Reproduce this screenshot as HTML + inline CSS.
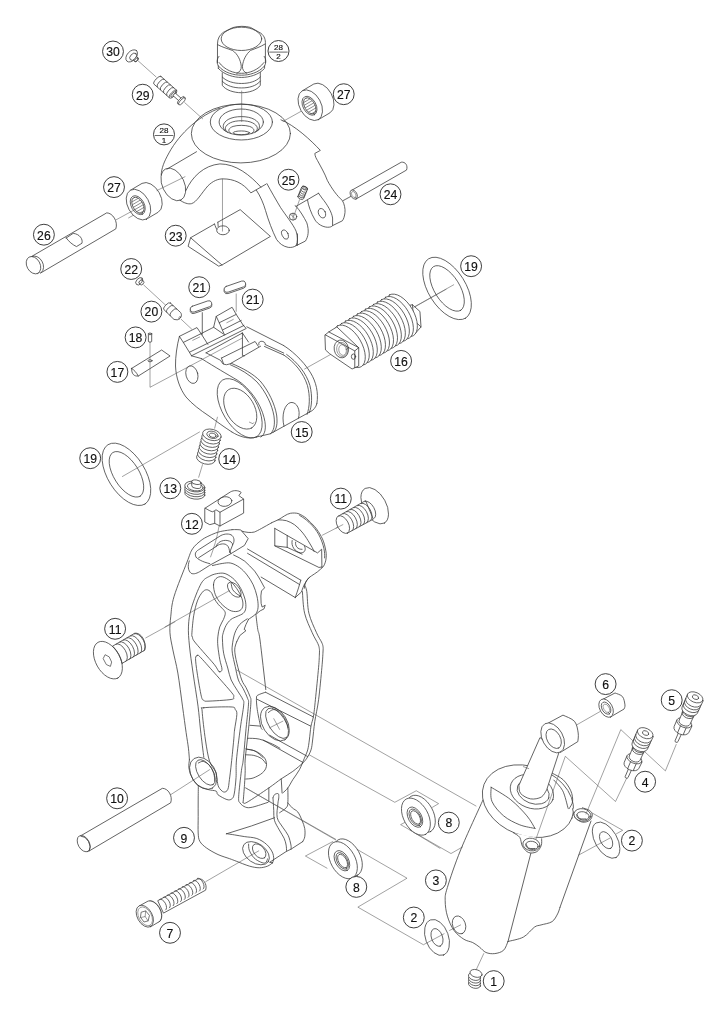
<!DOCTYPE html>
<html><head><meta charset="utf-8"><title>Exploded view</title>
<style>
html,body{margin:0;padding:0;background:#fff;}
body{width:726px;height:1018px;overflow:hidden;font-family:"Liberation Sans",sans-serif;}
svg{display:block;will-change:transform;}
.p *{vector-effect:non-scaling-stroke;}
.p{fill:none;stroke:#3c3c3c;stroke-width:0.8;stroke-linecap:round;stroke-linejoin:round;}
.w{fill:#fff;}
.l{fill:none;stroke:#555;stroke-width:0.55;}
.lb circle{fill:#fff;stroke:#2a2a2a;stroke-width:0.9;}
.lb text{font-family:"Liberation Sans",sans-serif;font-size:12.2px;fill:#111;stroke:#111;stroke-width:0.15;text-anchor:middle;}
.lb text.f{font-size:8px;}
.lb line{stroke:#2a2a2a;stroke-width:0.7;}
</style></head><body>
<svg width="726" height="1018" viewBox="0 0 726 1018">
<rect width="726" height="1018" fill="#fff"/>
<!-- 10_plug.svgfrag -->
<g class="p" transform="translate(215,20) scale(0.082645)">
<path d="M30,520 L30,290 C30,220 60,180 100,150 L215,92 C280,72 370,72 430,90 L555,160 C600,195 612,240 610,290 L610,520"/>
<ellipse cx="320" cy="228" rx="245" ry="141"/>
<path d="M35,300 C90,330 150,345 215,370 C270,410 310,480 318,560 C320,600 300,630 265,645"/>
<path d="M603,292 C550,325 490,345 430,368 C380,410 340,480 332,560 C330,600 350,630 385,645"/>
<path d="M48,440 C20,470 20,520 40,555 C110,640 230,668 320,668 C410,668 530,640 600,555 C620,520 620,470 595,440"/>
<path d="M50,515 C120,610 230,645 320,645 C410,645 520,610 592,515"/>
<path d="M40,585 C110,665 230,695 320,695 C410,695 530,665 600,585 L600,555 M40,585 L40,555"/>
<path d="M88,640 L88,790 C130,850 230,880 320,880 C410,880 510,850 548,790 L548,635"/>
<path d="M88,690 C140,745 230,768 320,768 C410,768 500,745 548,690"/>
<path d="M88,740 C140,800 230,822 320,822 C410,822 500,800 548,740"/>
</g>

<!-- 12_p29_30.svgfrag -->
<g class="p" transform="translate(120,40) scale(0.137741)">
<!-- leader -->
<path class="l" d="M128,148 L262,268 M470,455 L600,572"/>
<!-- part 30 -->
<ellipse class="w" cx="85" cy="115" rx="52" ry="33" transform="rotate(-48 85 115)"/>
<ellipse cx="96" cy="121" rx="30" ry="20" transform="rotate(-48 96 121)"/>
<path class="w" d="M123,122 L131,130 A17,9 -48 0 1 107,156 L99,149"/>
<ellipse cx="119" cy="143" rx="17" ry="9" transform="rotate(-48 119 143)"/>
<!-- part 29 body -->
<path class="w" d="M297,264 L410,364 L359,420 L246,320 A38,14 -48 0 1 297,264 Z"/>
<path d="M320.5,284 A38,14 -48 0 0 269.5,340"/>
<path d="M343.5,305 A38,14 -48 0 0 292.5,361"/>
<path d="M366.5,325 A38,14 -48 0 0 315.5,381"/>
<path d="M389.5,345 A38,14 -48 0 0 338.5,401"/>
<ellipse class="w" cx="385" cy="392" rx="38" ry="14" transform="rotate(-48 385 392)"/>
<ellipse cx="388" cy="395" rx="26" ry="10" transform="rotate(-48 388 395)"/>
<path class="w" d="M402,386 L450,428 L434,447 L386,405 Z"/>
<ellipse class="w" cx="442" cy="438" rx="34" ry="12" transform="rotate(-48 442 438)"/>
<ellipse class="w" cx="450" cy="445" rx="34" ry="12" transform="rotate(-48 450 445)"/>
</g>

<!-- 20_yoke.svgfrag -->
<g class="p" transform="translate(150,95) scale(0.199725)">
<!-- leader lines through yoke -->
<path class="l" d="M459,-20 L459,133"/>
<!-- outer left body -->
<path d="M350,66 C250,100 150,190 95,290 C70,335 58,365 56,400"/>
<!-- dome -->
<ellipse cx="455" cy="193" rx="248" ry="147"/>
</g>
<g class="p" transform="translate(205,98) scale(0.110193)">
<ellipse cx="330" cy="218" rx="282" ry="163"/>
<ellipse cx="329" cy="218" rx="201" ry="118"/>
<path d="M188,302 C150,270 160,225 210,195 C270,160 390,160 450,195 C500,225 510,270 472,302"/>
<path d="M205,312 C170,285 180,250 230,225 C280,200 380,200 430,225 C480,250 490,285 455,312"/>
<path d="M235,322 C200,300 215,272 255,258 C295,245 365,245 405,258 C445,272 460,300 425,322"/>
<ellipse cx="330" cy="316" rx="75" ry="17"/>
</g>
<g class="p" transform="translate(150,95) scale(0.199725)">
<!-- tube end -->
<ellipse cx="117" cy="448" rx="87" ry="55" transform="rotate(64.5 117 448)"/>
<path d="M85,371 L233,284"/>
<!-- arch inner edge -->
<path d="M150,527 C170,540 190,548 208,544 C235,535 255,495 290,455 C315,430 340,420 365,420 C420,420 465,440 505,490 L580,447"/>
<!-- arch upper edge -->
<path d="M180,478 C210,410 270,352 350,345 C430,345 500,400 555,461"/>
</g>
<g class="p" transform="translate(260,165) scale(0.137741)">
<!-- right body edge from dome to back lug -->
<path d="M152,-328 C250,-290 370,-180 438,-106 L398,-84 C400,-60 410,-45 417,-33 C440,10 470,60 489,112 C520,170 560,225 598,258 C612,280 620,320 617,345 C614,370 608,392 598,405 L527,440"/>
<!-- front lug -->
<path d="M50,135 C80,190 120,260 150,310 C190,370 240,430 262,480 C275,520 275,560 262,585 C245,598 225,600 205,598 C170,592 140,570 120,540 C90,480 60,400 40,330 C25,280 5,230 -26,183"/>
<path d="M272,500 L272,583"/>
<path d="M262,586 L330,552 C350,520 358,480 340,420 C320,380 290,330 262,300"/>
<ellipse cx="182" cy="505" rx="22" ry="36" transform="rotate(-25 182 505)"/>
<ellipse cx="240" cy="375" rx="27" ry="25"/>
<path d="M222,358 L255,390 M240,350 L240,400" stroke-width="0.5"/>
<!-- slot -->
<path d="M255,296 L262,300 L425,205"/>
<!-- back lug -->
<path d="M345,255 C350,290 370,350 400,400 C420,430 455,450 490,452 C510,452 520,448 527,440 L527,385 C520,340 490,290 450,240 L425,205"/>
<ellipse cx="450" cy="350" rx="25" ry="36" transform="rotate(-25 450 350)"/>
<!-- leader to pin 24 -->
<path class="l" d="M605,258 L662,227"/>
<path class="l" d="M287,252 L245,372"/>
</g>

<!-- 22_bearings_pins.svgfrag -->
<g class="p" transform="translate(280,70) scale(0.110193)">
<defs>
<clipPath id="bclip"><ellipse cx="270" cy="326" rx="80" ry="47" transform="rotate(61 270 326)"/></clipPath>
<g id="brg">
<path class="w" d="M202,189 L307,127 A150,97 61 0 1 453,389 L348,451 Z"/>
<ellipse class="w" cx="275" cy="320" rx="150" ry="97" transform="rotate(61 275 320)"/>
<ellipse cx="268" cy="325" rx="93" ry="59" transform="rotate(61 268 325)"/>
<ellipse cx="270" cy="326" rx="80" ry="47" transform="rotate(61 270 326)"/>
<g clip-path="url(#bclip)" stroke-width="0.6">
<path d="M180,262 L300,192 M180,288 L300,218 M190,310 L320,234 M200,332 L340,250 M210,355 L350,273 M220,378 L360,296 M230,400 L370,318 M240,424 L380,342 M250,448 L390,366"/>
</g>
</g>
</defs>
<!-- leaders -->
<path class="l" d="M28,466 L200,370"/>
<use href="#brg"/>
<path class="l" d="M-1374,1342 L-1229,1262"/>
<use href="#brg" transform="translate(-1559,902)"/>
</g>
<g class="p" transform="translate(0,0) scale(1.000000)"><path class="l" d="M157,190.5 L185,176.7"/></g>
<!-- pin 26 -->
<g class="p" transform="translate(15,195) scale(0.165289)">
<path class="l" d="M612,150 L726,88"/>
<path class="w" d="M95,375 L555,108 C590,108 625,160 610,205 L155,472 Z"/>
<ellipse class="w" cx="112" cy="425" rx="56" ry="40" transform="rotate(61 112 425)"/>
<path d="M103,372 A56,40 61 0 1 160,468"/>
<path d="M310,260 L352,232 C392,236 412,268 405,292 L372,312 C350,302 325,282 310,260 Z"/>
</g>
<!-- pin 24 -->
<g class="p" transform="translate(320,145) scale(0.137741)">
<path class="l" d="M165,405 L225,372"/>
<path class="w" d="M228,330 L590,125 C620,120 640,150 628,182 L262,392 Z"/>
<ellipse class="w" cx="245" cy="360" rx="36" ry="23" transform="rotate(61 245 360)"/>
<ellipse cx="245" cy="360" rx="24" ry="14" transform="rotate(61 245 360)" stroke-width="0.5"/>
</g>
<!-- screw 25 -->
<g class="p" transform="translate(260,165) scale(0.137741)">
<path class="w" d="M275,228 L303,160 A22,12 23 0 1 345,176 L317,244 A22,12 23 0 1 275,228 Z"/>
<ellipse cx="324" cy="168" rx="22" ry="12" transform="rotate(23 324 168)"/>
<ellipse cx="324" cy="168" rx="12" ry="6" transform="rotate(23 324 168)" stroke-width="0.5"/>
<path d="M297,176 A22,12 23 0 0 339,192 M291,190 A22,12 23 0 0 333,206 M285,204 A22,12 23 0 0 327,220 M280,217 A22,12 23 0 0 322,233"/>
</g>
<!-- plate 23 -->
<g class="p" transform="translate(160,165) scale(0.165289)">
<path class="l" d="M378,85 L378,400"/>
<path d="M185,440 L330,357 M350,346 L485,270 L668,432 L375,605 L355,612 L170,492 L185,440 L375,605"/>
<path d="M330,357 C335,372 338,380 343,388 M350,346 L352,372"/>
<ellipse cx="381" cy="395" rx="38" ry="27"/>
</g>

<!-- 30_body15.svgfrag -->
<!-- body 15: boss region -->
<g class="p" transform="translate(205,355) scale(0.179063)">
<path d="M150,430 C190,455 235,468 270,462 L365,440 L600,310 C615,295 622,285 625,270"/>
<path d="M440,-52 C470,-35 545,25 590,100 C620,150 635,210 625,270"/>
<path d="M440,0 C500,40 550,100 572,170 C588,230 585,290 570,332"/>
<path d="M456,-3 C515,40 565,100 586,170 C600,230 598,285 582,322"/>
<path d="M141,54 C200,80 250,110 290,150 C340,205 375,280 385,340 C392,390 385,425 365,440"/>
<path d="M148,47 C215,75 268,105 308,145 C355,200 390,275 400,335 C406,385 400,415 382,432"/>
<path d="M-20,20 C60,70 120,105 180,140 C250,185 310,270 330,350 C345,410 335,445 312,458"/>
<ellipse cx="194" cy="298" rx="185" ry="96" transform="rotate(59 194 298)"/>
<ellipse cx="197" cy="300" rx="125" ry="78" transform="rotate(59 197 300)"/>
<path d="M248,375 L268,384 L272,378" stroke-width="0.5"/>
<path d="M441,397 C425,335 445,272 480,265 C515,262 535,310 522,353"/>
<!-- leader to spring 16 -->

</g>
<!-- body 15: left outline + hole in source coords -->
<g class="p" transform="translate(0,0) scale(1.000000)">
<path d="M179.4,336.4 C177,345 175.3,357 175.5,366 C176,378 180,389 186,397 C192,404 200,410 209,416 C216,421 224,427 231.9,432"/>
<ellipse cx="191.9" cy="374.6" rx="5.9" ry="9" transform="rotate(-15 191.9 374.6)"/>
</g>
<!-- body 15: blocks -->
<g class="p" transform="translate(170,300) scale(0.151515)">
<path class="l" d="M213,85 L213,230 M437,-40 L437,75"/>
<path d="M62,240 L178,182 L205,222 L250,293"/>
<path d="M62,240 L88,280 L128,345 L142,368"/>
<path d="M88,280 L205,222"/>
<path d="M150,266 L196,244" stroke-width="0.5"/>
<path d="M128,345 L488,168 M142,368 L503,188 L483,166"/>
<path d="M205,222 L272,188 L288,180 L305,108 L410,48 L437,95 L483,166"/>
<path d="M305,108 L325,150 L360,231 M325,150 L437,95"/>
<path d="M348,197 L470,135" />
<path d="M375,150 L418,128" stroke-width="0.5"/>
<path d="M288,180 L352,224"/>
</g>
<!-- body 15: pocket -->
<g class="p" transform="translate(200,320) scale(0.110193)">
<path d="M-77,325 L13,350"/>
<path d="M55,298 L385,118 M55,298 L185,365 L210,400 L240,406 L272,398 L550,238"/>
<path d="M385,118 L385,322 L402,326 M385,118 L440,200"/>
<path d="M195,345 L500,195 L530,240 M195,345 L213,396"/>
<path d="M535,225 C525,205 545,188 570,195 C590,200 595,215 590,222 L760,300 M585,240 L760,318"/>
<path d="M425,62 L760,232"/>
</g>

<!-- 32_small_mid.svgfrag -->
<g class="p" transform="translate(120,265) scale(0.137741)">
<!-- leaders -->
<path class="l" d="M172,145 L335,295 M445,395 L520,465 M598,345 L598,500"/>
<!-- part 22 -->
<ellipse class="w" cx="140" cy="118" rx="31" ry="20" transform="rotate(-48 140 118)"/>
<path class="w" d="M160,108 L172,119 A16,9 -48 0 1 150,143 L139,133"/>
<ellipse class="w" cx="150" cy="121" rx="16" ry="9" transform="rotate(-48 150 121)"/>
<!-- part 20 -->
<path class="w" d="M365,275 L440,345 C455,365 440,395 415,398 L392,395 L320,325 A32,13 -47 0 1 365,275 Z"/>
<path d="M385,294 A32,13 -47 0 0 340,344 M412,318 A32,13 -47 0 0 366,369"/>
<ellipse cx="432" cy="383" rx="9" ry="5" transform="rotate(-47 432 383)" stroke-width="0.5"/>
<!-- part 21 left -->
<g id="key21">
<rect class="w" x="506" y="289" width="164" height="44" rx="22" transform="rotate(-19 588 311)"/>
<rect class="w" x="506" y="279" width="164" height="44" rx="22" transform="rotate(-19 588 301)"/>
</g>
</g>
<g class="p" transform="translate(120,265) scale(0.137741)">
<use href="#key21" transform="translate(246,-144)"/>
</g>
<g class="p" transform="translate(105,250) scale(0.206612)">
<!-- part 18 pin -->
<path class="w" d="M210,406 L210,442 A8,4 0 0 0 226,442 L226,406 Z"/>
<ellipse class="w" cx="218" cy="406" rx="8" ry="4"/>
<!-- part 17 strip -->
<path class="w" d="M129,573 L274,484 L315,513 L161,610 C140,612 128,600 129,573 Z"/>
<path d="M129,573 C140,580 152,592 161,610"/>
<ellipse cx="218" cy="536" rx="10" ry="5"/>
</g>
<g class="p" transform="translate(0,0) scale(1.000000)">
<path class="l" d="M150,342 L150,387.3 L242.4,338"/>
</g>

<!-- 34_spring16.svgfrag -->
<g class="p" transform="translate(310,280) scale(0.179063)">
<path class="l" d="M-30,497 L140,402 M585,150 L760,52"/>
<path class="w" d="M520,150 L572,138 L614,176 L620,262 L590,296 L540,300 Z"/>
<path d="M572,138 L580,225 L620,262 M580,225 L548,252"/>
<path class="w" d="M445.0,82.7 A132,70 60 0 1 577.0,311.3 A132,70 60 0 1 445.0,82.7 Z"/>
<path class="w" d="M422.6,96.0 A132,70 60 0 1 554.6,324.6 A132,70 60 0 1 422.6,96.0 Z"/>
<path class="w" d="M400.2,109.3 A132,70 60 0 1 532.2,337.9 A132,70 60 0 1 400.2,109.3 Z"/>
<path class="w" d="M377.8,122.6 A132,70 60 0 1 509.8,351.2 A132,70 60 0 1 377.8,122.6 Z"/>
<path class="w" d="M355.5,135.9 A132,70 60 0 1 487.5,364.5 A132,70 60 0 1 355.5,135.9 Z"/>
<path class="w" d="M333.1,149.2 A132,70 60 0 1 465.1,377.9 A132,70 60 0 1 333.1,149.2 Z"/>
<path class="w" d="M310.7,162.5 A132,70 60 0 1 442.7,391.2 A132,70 60 0 1 310.7,162.5 Z"/>
<path class="w" d="M288.3,175.8 A132,70 60 0 1 420.3,404.5 A132,70 60 0 1 288.3,175.8 Z"/>
<path class="w" d="M265.9,189.1 A132,70 60 0 1 397.9,417.8 A132,70 60 0 1 265.9,189.1 Z"/>
<path class="w" d="M243.5,202.5 A132,70 60 0 1 375.5,431.1 A132,70 60 0 1 243.5,202.5 Z"/>
<path class="w" d="M221.2,215.8 A132,70 60 0 1 353.2,444.4 A132,70 60 0 1 221.2,215.8 Z"/>
<path class="w" d="M198.8,229.1 A132,70 60 0 1 330.8,457.7 A132,70 60 0 1 198.8,229.1 Z"/>
<path class="w" d="M176.4,242.4 A132,70 60 0 1 308.4,471.0 A132,70 60 0 1 176.4,242.4 Z"/>
<path class="w" d="M154.0,255.7 A132,70 60 0 1 286.0,484.3 A132,70 60 0 1 154.0,255.7 Z"/>
<path class="w" d="M85,306 L105,290 L150,262 L272,378 L272,480 L235,497 L110,412 L88,392 Z"/>
<path d="M85,306 L250,396 L272,378 M250,396 L250,490 M105,290 L272,378"/>
<ellipse cx="175" cy="385" rx="40" ry="50" transform="rotate(-10 175 385)"/>
<ellipse cx="179" cy="388" rx="30" ry="40" transform="rotate(-10 179 388)" stroke-width="0.5"/>
<ellipse cx="182" cy="391" rx="21" ry="30" transform="rotate(-10 182 391)" stroke-width="0.5"/>
<ellipse cx="243" cy="428" rx="12" ry="15"/>
</g>

<!-- 36_rings_13_14.svgfrag -->
<g class="p" transform="translate(400,240) scale(0.137741)">
<g id="ring19"><path class="l" d="M100,488 L390,325"/>
<ellipse cx="342" cy="352" rx="254" ry="135.5" transform="rotate(58 342 352)"/>
<ellipse cx="342" cy="352" rx="187" ry="91.5" transform="rotate(58 342 352)"/></g>
</g>
<g class="p" transform="translate(400,240) scale(0.137741)">
<ellipse cx="342" cy="352" rx="254" ry="135.5" transform="translate(-2327.6,1349.6) rotate(58 342 352)"/>
<ellipse cx="342" cy="352" rx="187" ry="91.5" transform="translate(-2327.6,1349.6) rotate(58 342 352)"/>
</g>
<g class="p" transform="translate(0,0) scale(1.000000)"><path class="l" d="M122.4,476.5 L199.5,432"/></g>
<g class="p" transform="translate(175,415) scale(0.110193)">
<path class="l" d="M385,20 L360,120 M250,450 L215,565"/>
<ellipse class="w" cx="280.0" cy="395.0" rx="86" ry="50" transform="rotate(14 280.0 395.0)"/>
<ellipse class="w" cx="287.9" cy="364.3" rx="86" ry="50" transform="rotate(14 287.9 364.3)"/>
<ellipse class="w" cx="295.7" cy="333.6" rx="86" ry="50" transform="rotate(14 295.7 333.6)"/>
<ellipse class="w" cx="303.6" cy="302.9" rx="86" ry="50" transform="rotate(14 303.6 302.9)"/>
<ellipse class="w" cx="311.4" cy="272.1" rx="86" ry="50" transform="rotate(14 311.4 272.1)"/>
<ellipse class="w" cx="319.3" cy="241.4" rx="86" ry="50" transform="rotate(14 319.3 241.4)"/>
<ellipse class="w" cx="327.1" cy="210.7" rx="86" ry="50" transform="rotate(14 327.1 210.7)"/>
<ellipse class="w" cx="335.0" cy="180.0" rx="86" ry="50" transform="rotate(14 335.0 180.0)"/>
<ellipse cx="340" cy="180" rx="52" ry="32" transform="rotate(14 340 180)"/>
<ellipse cx="342" cy="184" rx="32" ry="19" transform="rotate(14 342 184)"/>
<ellipse class="w" cx="180" cy="715" rx="92" ry="48" transform="rotate(8 180 715)"/>
<ellipse class="w" cx="180" cy="693" rx="92" ry="48" transform="rotate(8 180 693)"/>
<ellipse class="w" cx="180" cy="671" rx="92" ry="48" transform="rotate(8 180 671)"/>
<ellipse class="w" cx="180" cy="649" rx="92" ry="48" transform="rotate(8 180 649)"/>
<ellipse cx="184" cy="652" rx="72" ry="36" transform="rotate(8 184 652)"/>
<path class="w" d="M152,605 L152,640 A42,20 8 0 0 236,652 L236,617"/>
<ellipse class="w" cx="194" cy="610" rx="42" ry="20" transform="rotate(8 194 610)"/>
</g>

<!-- 40_frame_top.svgfrag -->
<!-- part 12 block -->
<g class="p" transform="translate(180,485) scale(0.165289)">
<path class="l" d="M236,250 C225,320 205,380 185,435"/>
<path class="w" d="M152,140 L305,42 C325,30 355,32 370,45 L356,64 L385,85 L385,170 L242,248 L210,232 L180,240 L152,225 Z"/>
<path d="M152,140 C170,150 185,160 198,162 C205,160 210,152 218,150 L242,165 L385,85 M242,165 L242,248 M210,160 L210,232"/>
<ellipse cx="272" cy="100" rx="42" ry="29" transform="rotate(-8 272 100)"/>
</g>
<!-- frame head: slot view -->
<g class="p" transform="translate(180,520) scale(0.123967)">
<path d="M420,78 C450,76 475,78 490,80 L550,150 L520,205 L410,272 L240,365 L170,410 C140,430 110,440 90,430 C65,410 60,370 75,330"/>
<path d="M500,90 C530,100 570,105 600,97 C630,85 680,55 740,22"/>
<path d="M130,300 C115,275 125,255 150,240 L330,125 C360,110 400,108 420,125 C440,145 440,175 425,200 L405,250 L410,272"/>
<path d="M130,300 C140,315 180,338 240,352"/>
<path d="M150,305 L290,215 C310,195 350,185 375,200 C395,215 400,240 400,262"/>
<path d="M290,215 C300,180 340,160 380,165 C410,170 425,185 425,200"/>
</g>
<!-- frame: lobe + pocket + bar -->
<g class="p" transform="translate(250,530) scale(0.123967)">
<path d="M175,-59 L227,-82 C260,-100 295,-130 327,-135 C350,-138 370,-138 387,-133 C410,-125 435,-110 454,-95 C480,-70 500,-50 520,-29 C545,0 560,25 574,51 C590,80 600,110 607,145 C615,180 617,200 614,225 C612,250 605,272 594,291 C585,302 577,310 567,318 C540,345 500,365 475,385 C450,410 440,440 438,470"/>
<path d="M227,-82 C250,-82 272,-80 294,-75 C320,-66 340,-56 360,-42 C385,-22 408,0 427,25 C450,55 465,80 480,105 C495,130 508,150 518,174"/>
<path d="M400,-118 C440,-95 470,-70 500,-38 C530,-5 550,25 565,58 C580,90 590,120 596,148 C602,180 604,200 602,225"/>
<path d="M200,-13 L200,128 L300,140 L300,44 M200,128 L556,302 L582,298 M300,140 L420,195"/>
<path d="M200,-13 L545,185 L578,155 L580,300"/>
<path d="M340,85 C330,130 360,175 410,185 C440,185 455,160 440,130"/>
<path d="M368,98 C362,130 385,158 420,156"/>
<path d="M-20,153 L410,405 M-20,188 L400,440 M90,380 L365,545"/>
<path d="M410,405 C400,440 385,490 365,545"/>
<path d="M478,383 C450,410 430,450 415,500 L365,545"/>

</g>

<!-- 42_frame_mid.svgfrag -->
<g class="p" transform="translate(0,0) scale(1.000000)">
<path class="l" d="M165.00,626.94 L229.46,590.58"/>
<path d="M232.07,529.67 C230.41,529.92 224.90,530.60 222.15,531.16 C219.40,531.71 217.95,532.15 215.58,533.02 C213.20,533.88 210.31,535.12 207.89,536.36 C205.48,537.60 203.63,538.38 201.07,540.45 C198.52,542.53 194.89,545.22 192.55,548.82 C190.21,552.41 190.11,554.11 187.04,562.04 C183.96,569.96 176.80,587.34 174.09,596.36 C171.38,605.39 171.47,610.14 170.79,616.20 C170.10,622.26 169.61,627.11 169.96,632.73 C170.31,638.35 171.58,643.20 172.89,649.92 C174.21,656.64 176.25,663.69 177.85,673.06 C179.45,682.42 181.10,696.20 182.48,706.12 C183.86,716.03 185.12,725.55 186.12,732.56 C187.11,739.57 187.88,743.65 188.43,748.18 C188.98,752.71 189.26,757.82 189.42,759.75"/>
<path d="M212.40,565.58 C214.03,565.23 219.11,563.88 222.19,563.47 C225.27,563.06 227.98,562.44 230.87,563.10 C233.76,563.76 236.86,565.48 239.55,567.44 C242.23,569.40 244.71,571.98 246.98,574.88 C249.26,577.77 251.53,581.28 253.18,584.79 C254.83,588.31 256.07,592.44 256.90,595.95 C257.73,599.46 258.14,603.18 258.14,605.87 C258.14,608.55 257.52,610.52 256.90,612.07 C256.28,613.62 255.87,613.93 254.42,615.17 C252.98,616.40 249.26,618.78 248.22,619.50"/>
<path d="M203.80,757.27 C203.25,752.71 201.46,738.44 200.50,729.92 C199.53,721.39 199.26,715.59 198.02,706.12 C196.78,696.64 194.48,683.09 193.06,673.06 C191.63,663.03 190.23,653.77 189.46,645.95 C188.70,638.13 188.14,632.45 188.47,626.12 C188.80,619.78 189.34,615.03 191.45,607.93 C193.55,600.84 198.06,588.86 201.12,583.55 C204.17,578.25 206.90,577.81 209.79,576.12 C212.69,574.42 215.79,573.76 218.47,573.39 C221.16,573.02 223.22,572.81 225.91,573.88 C228.60,574.96 232.11,577.40 234.59,579.83 C237.07,582.27 239.03,585.21 240.79,588.51 C242.54,591.82 244.30,596.36 245.12,599.67 C245.95,602.98 246.05,606.07 245.74,608.35 C245.43,610.62 244.71,611.96 243.26,613.31 C241.82,614.65 239.13,615.37 237.07,616.40 C235.00,617.44 232.73,617.95 230.87,619.50 C229.01,621.05 227.25,623.22 225.91,625.70 C224.57,628.18 223.38,632.00 222.81,634.38 C222.24,636.76 222.34,636.86 222.48,640.00 C222.62,643.14 222.75,648.54 223.64,653.22 C224.52,657.91 226.52,663.64 227.77,668.10 C229.02,672.56 229.55,676.25 231.16,680.00 C232.77,683.75 235.50,687.39 237.42,690.61 C239.35,693.82 241.68,696.87 242.73,699.28 C243.77,701.69 244.09,700.25 243.69,705.07 C243.29,709.89 241.52,719.05 240.32,728.21 C239.11,737.37 237.17,751.80 236.46,760.03 C235.75,768.25 236.42,771.87 236.04,777.55 C235.66,783.22 234.90,790.52 234.18,794.08 C233.47,797.64 232.98,797.98 231.77,798.90 C230.57,799.82 229.25,800.28 226.95,799.59 C224.66,798.90 219.79,796.17 218.00,794.77 C216.21,793.36 217.88,792.03 216.20,791.16 C214.52,790.28 210.96,790.47 207.93,789.50 C204.90,788.54 200.63,787.30 198.02,785.37 C195.40,783.44 193.75,780.83 192.23,777.93 C190.72,775.04 189.39,771.05 188.93,768.02 C188.46,764.99 189.34,761.13 189.42,759.75"/>
<path d="M213.51,584.79 C213.62,582.11 214.55,579.94 215.99,578.60 C217.44,577.25 219.71,576.22 222.19,576.74 C224.67,577.25 228.18,579.32 230.87,581.69 C233.55,584.07 236.34,587.79 238.31,590.99 C240.27,594.19 242.02,598.02 242.64,600.91 C243.26,603.80 242.95,606.59 242.02,608.35 C241.10,610.10 239.13,611.14 237.07,611.45 C235.00,611.76 232.31,611.55 229.63,610.21 C226.94,608.86 223.33,605.97 220.95,603.39 C218.57,600.81 216.61,597.81 215.37,594.71 C214.13,591.61 213.41,587.48 213.51,584.79 Z"/>
<ellipse cx="234.34" cy="589.75" rx="8.93" ry="4.96" transform="rotate(50 234.34 589.75)"/>
<path d="M231.12,583.31 C231.38,584.38 231.74,587.95 232.73,589.75 C233.72,591.55 235.79,593.06 237.07,594.09 C238.35,595.12 239.86,595.64 240.41,595.95"/>
<path d="M219.17,671.74 C220.41,672.51 221.87,671.40 221.98,669.42 C222.09,667.44 220.52,663.75 219.83,659.83 C219.15,655.92 218.18,649.78 217.85,645.95 C217.52,642.12 217.54,640.03 217.85,636.86 C218.16,633.69 218.78,629.83 219.71,626.94 C220.64,624.05 222.50,621.78 223.43,619.50 C224.36,617.23 225.29,614.96 225.29,613.31 C225.29,611.65 224.57,611.03 223.43,609.59 C222.29,608.14 220.02,606.49 218.47,604.63 C216.92,602.77 215.37,600.50 214.13,598.43 C212.89,596.36 212.27,593.68 211.03,592.23 C209.79,590.79 208.14,589.75 206.69,589.75 C205.25,589.75 203.90,590.37 202.36,592.23 C200.81,594.09 198.84,596.98 197.40,600.91 C195.95,604.83 194.61,610.21 193.68,615.79 C192.75,621.36 192.03,630.90 191.82,634.38 C191.60,637.87 192.05,635.62 192.40,636.69 C192.74,637.77 192.12,638.35 193.88,640.83 C195.65,643.31 199.53,647.58 202.98,651.57 C206.42,655.56 211.85,661.43 214.55,664.79 C217.25,668.15 217.93,670.96 219.17,671.74 Z"/>
<path d="M197.19,655.70 C196.50,656.03 195.54,655.62 195.54,658.51 C195.54,661.40 196.23,666.78 197.19,673.06 C198.15,679.34 200.22,691.65 201.32,696.20 C202.42,700.74 202.70,699.50 203.80,700.33 C204.90,701.16 203.39,701.29 207.93,701.16 C212.48,701.02 226.80,700.19 231.07,699.50 C235.34,698.82 233.42,698.13 233.55,697.02 C233.69,695.92 235.07,696.89 231.90,692.89 C228.73,688.90 219.92,679.12 214.55,673.06 C209.17,667.00 202.56,659.42 199.67,656.53 C196.78,653.64 197.88,655.37 197.19,655.70 Z"/>
<path d="M203.80,707.77 C198.98,708.46 201.87,705.70 202.15,711.07 C202.42,716.45 204.21,731.61 205.45,740.00 C206.69,748.39 207.93,756.18 209.59,761.40 C211.24,766.63 214.13,768.29 215.37,771.32 C216.61,774.35 216.47,776.97 217.02,779.59 C217.58,782.20 217.58,784.96 218.68,787.02 C219.78,789.09 222.12,791.57 223.64,791.98 C225.15,792.40 226.80,791.57 227.77,789.50 C228.73,787.44 228.82,783.99 229.42,779.59 C230.03,775.18 230.69,769.66 231.40,763.06 C232.12,756.46 233.20,745.51 233.72,740.00 C234.24,734.49 234.02,734.27 234.55,730.00 C235.07,725.73 236.75,717.81 236.86,714.38 C236.97,710.95 236.17,710.66 235.21,709.42 C234.24,708.18 236.31,707.22 231.07,706.94 C225.84,706.67 208.62,707.08 203.80,707.77 Z"/>
<path d="M233.60,555.00 L239.17,557.73 L244.75,561.20 L249.71,565.91 L254.67,571.12 L258.02,576.07 L260.87,581.03 L264.59,587.85 L261.49,590.95 L260.87,595.91 L261.12,603.35 L262.11,607.07 L265.21,605.21 L263.97,608.93 L260.25,610.79 L257.15,613.26 L255.91,614.50"/>
<path d="M255.91,614.50 C256.22,616.98 257.09,625.13 257.77,629.38 C258.45,633.63 258.66,629.97 260.00,640.00 C261.34,650.03 264.82,681.32 265.79,689.59"/>
<path d="M247.23,618.84 C245.99,619.77 241.86,622.05 239.79,624.42 C237.73,626.80 236.07,629.67 234.83,633.10 C233.60,636.53 232.76,641.65 232.36,645.00 C231.95,648.35 231.92,649.65 232.40,653.22 C232.87,656.80 234.21,661.98 235.21,666.45 C236.21,670.91 237.05,676.29 238.39,680.00 C239.72,683.71 241.68,685.62 243.21,688.68 C244.74,691.73 246.66,695.75 247.55,698.32 C248.43,700.89 248.75,699.12 248.51,704.10 C248.27,709.09 246.99,718.89 246.10,728.21 C245.22,737.53 243.99,752.95 243.21,760.03 C242.43,767.10 242.17,764.53 241.42,770.66 C240.66,776.80 238.89,791.44 238.66,796.83 C238.43,802.23 238.89,801.31 240.04,803.03 C241.19,804.75 243.48,806.47 245.55,807.16 C247.61,807.85 248.69,807.97 252.44,807.16 C256.18,806.36 265.41,803.15 268.00,802.34"/>
<path d="M248.47,619.46 L245.99,624.42 L244.13,629.38 L245.99,630.62 L239.79,635.58 L236.69,641.78"/>
<path d="M236.69,641.78 C236.36,643.13 234.68,646.36 234.71,649.92 C234.74,653.48 235.68,658.13 236.86,663.14 C238.03,668.15 240.22,675.90 241.76,680.00 C243.30,684.10 244.74,684.98 246.10,687.71 C247.47,690.45 249.16,693.98 249.96,696.39 C250.76,698.80 251.08,697.52 250.92,702.18 C250.76,706.84 249.56,718.41 248.99,724.35 C248.43,730.30 248.19,731.91 247.55,737.85 C246.91,743.80 245.53,754.56 245.14,760.03 C244.75,765.50 245.31,766.59 245.20,770.66 C245.10,774.73 244.86,779.16 244.52,784.44 C244.17,789.72 243.37,799.36 243.14,802.34"/>
</g>

<!-- 44_frame_low.svgfrag -->
<g class="p" transform="translate(0,0) scale(1.000000)">
<path class="l" d="M170.50,794.80 L209.59,769.67"/>
<path class="l" d="M205.80,881.60 L258.75,850.84"/>
<path class="l" d="M245.70,787.93 L335.79,840.00"/>
<path d="M304.50,585.00 C304.88,586.10 306.07,586.90 306.80,591.60 C307.53,596.30 307.28,606.35 308.90,613.20 C310.52,620.05 314.40,627.90 316.50,632.70 C318.60,637.50 320.42,639.70 321.50,642.00 C322.58,644.30 322.75,644.83 323.00,646.50 C323.25,648.17 323.18,648.53 323.00,652.00 C322.82,655.47 322.63,659.35 321.90,667.30 C321.17,675.25 319.78,690.68 318.60,699.70 C317.42,708.72 315.79,714.68 314.80,721.40 C313.81,728.12 313.28,735.25 312.64,740.00 C312.01,744.75 311.96,746.89 310.99,749.92 C310.03,752.95 308.24,755.98 306.86,758.18 C305.48,760.39 303.42,762.31 302.73,763.14"/>
<path d="M302.40,591.60 C302.77,595.20 302.97,606.35 304.60,613.20 C306.23,620.05 310.00,627.65 312.20,632.70 C314.40,637.75 316.62,640.87 317.80,643.50 C318.98,646.13 319.03,646.75 319.30,648.50 C319.57,650.25 319.52,650.87 319.40,654.00 C319.28,657.13 319.27,659.68 318.60,667.30 C317.93,674.92 316.25,691.55 315.40,699.70 C314.55,707.85 314.21,711.80 313.47,716.20 C312.74,720.60 311.68,722.15 310.99,726.12 C310.30,730.08 309.89,736.03 309.34,740.00 C308.79,743.97 308.51,746.89 307.69,749.92 C306.86,752.95 305.76,754.88 304.38,758.18 C303.00,761.49 301.35,766.17 299.42,769.75 C297.49,773.33 294.74,776.64 292.81,779.67 C290.88,782.70 289.50,785.73 287.85,787.93 C286.20,790.14 283.72,792.07 282.89,792.89"/>
<path d="M262.23,729.42 C261.96,728.87 261.40,729.42 260.58,726.12 C259.75,722.81 257.96,714.27 257.27,709.59 C256.58,704.90 256.31,700.44 256.45,698.02 C256.58,695.59 256.58,696.01 258.10,695.04 C259.61,694.08 264.30,692.70 265.54,692.23"/>
<path d="M265.54,692.23 L313.47,717.02"/>
<path d="M257.27,699.34 L310.66,726.12"/>
<ellipse cx="274.96" cy="723.64" rx="19.01" ry="12.23" transform="rotate(58 274.96 723.64)"/>
<ellipse cx="277.11" cy="723.31" rx="17.19" ry="8.35" transform="rotate(58 277.11 723.31)"/>
<path d="M268.35,712.56 C269.17,712.07 271.43,709.67 273.31,709.59 C275.18,709.50 277.58,710.41 279.59,712.07 C281.60,713.72 283.94,716.89 285.37,719.50 C286.80,722.12 287.71,726.39 288.18,727.77"/>
<path d="M269.67,727.77 L282.89,721.16" stroke-width="0.5"/>
<path d="M273.80,718.68 L279.59,729.42" stroke-width="0.5"/>
<path d="M249.83,725.29 L260.58,726.12"/>
<path d="M269.67,735.21 L279.59,740.99 L307.69,756.53"/>
<path d="M263.06,740.00 L302.73,762.31"/>
<ellipse cx="203.31" cy="773.31" rx="17.44" ry="12.07" transform="rotate(58 203.31 773.31)"/>
<ellipse cx="205.45" cy="772.48" rx="14.38" ry="7.44" transform="rotate(58 205.45 772.48)"/>
<path d="M198.35,763.06 C199.17,762.78 201.43,760.99 203.31,761.40 C205.18,761.82 207.85,763.55 209.59,765.54 C211.32,767.52 212.84,770.69 213.72,773.31 C214.60,775.92 214.68,779.92 214.88,781.24"/>
<path d="M198.35,785.37 C198.32,787.81 198.21,794.81 198.18,800.00 C198.15,805.19 198.18,811.02 198.18,816.53 C198.18,822.04 197.91,828.93 198.18,833.06 C198.46,837.19 198.46,838.84 199.83,841.32 C201.21,843.80 203.42,845.73 206.45,847.93 C209.48,850.14 214.16,852.75 218.02,854.55 C221.87,856.34 226.56,857.58 229.59,858.68 C232.62,859.78 232.89,859.92 236.20,861.16 C239.50,862.40 245.56,865.01 249.42,866.12 C253.28,867.22 256.31,867.77 259.34,867.77 C262.37,867.77 265.40,866.94 267.60,866.12 C269.81,865.29 271.74,863.36 272.56,862.81"/>
<path d="M272.56,862.81 L269.61,862.31 L286.56,851.29 L290.96,849.23 L302.67,841.65"/>
<path d="M245.87,748.93 C247.63,749.37 253.31,750.03 256.45,751.57 C259.59,753.11 263.06,755.70 264.71,758.18 C266.36,760.66 266.78,763.97 266.36,766.45 C265.95,768.93 264.44,771.13 262.23,773.06 C260.03,774.99 255.90,777.02 253.14,778.02 C250.39,779.01 246.94,778.84 245.70,779.01"/>
<path d="M247.60,738.26 C249.53,738.40 255.04,738.13 259.17,739.09 C263.31,740.06 268.94,742.52 272.40,744.05 C275.85,745.58 278.66,747.56 279.92,748.26"/>
<path d="M246.53,749.26 C247.91,749.53 252.04,749.53 254.79,750.91 C257.55,752.29 261.68,756.42 263.06,757.52"/>
<path d="M245.60,754.80 C246.97,754.90 251.18,754.80 253.80,755.40 C256.42,756.00 259.23,756.98 261.30,758.40 C263.37,759.82 265.38,762.98 266.20,763.90"/>
<path d="M302.73,763.14 C301.07,764.52 296.39,768.79 292.81,771.40 C289.23,774.02 285.23,776.09 281.24,778.84 C277.25,781.60 274.56,784.02 268.84,787.93 C263.12,791.85 251.21,799.94 246.93,802.34 C242.64,804.74 243.77,802.34 243.14,802.34"/>
<path d="M268.84,787.93 L268.84,801.49"/>
<path d="M281.24,778.84 L282.07,792.89"/>
<path d="M287.85,787.93 C287.85,790.41 288.13,799.50 287.85,802.81 C287.58,806.12 287.58,806.12 286.20,807.77 C284.82,809.42 280.69,811.90 279.59,812.73"/>
<path d="M272.98,797.85 C273.25,797.30 273.75,795.23 274.63,794.55 C275.51,793.86 277.58,793.17 278.26,793.72 C278.95,794.27 278.82,796.18 278.76,797.85 C278.70,799.53 278.14,800.49 277.88,803.77 C277.62,807.06 276.39,813.65 277.19,817.55 C277.99,821.45 280.86,824.21 282.70,827.19 C284.54,830.17 286.83,832.47 288.21,835.45 C289.59,838.44 290.51,842.80 290.96,845.10 C291.42,847.39 290.96,848.54 290.96,849.23"/>
<path d="M272.98,797.85 C273.03,798.68 273.18,800.67 273.31,802.81 C273.43,804.94 273.56,807.75 273.75,810.66 C273.93,813.58 273.52,817.09 274.44,820.30 C275.35,823.52 277.65,826.96 279.26,829.94 C280.86,832.93 282.93,835.68 284.08,838.21 C285.22,840.73 285.73,842.92 286.14,845.10 C286.56,847.28 286.49,850.26 286.56,851.29"/>
<path d="M287.85,802.81 C288.60,803.66 290.67,806.37 292.34,807.91 C294.01,809.44 296.24,809.97 297.85,812.04 C299.46,814.10 300.84,817.55 301.98,820.30 C303.13,823.06 304.28,825.81 304.74,828.57 C305.20,831.32 305.08,834.65 304.74,836.83 C304.39,839.01 303.02,840.85 302.67,841.65"/>
<path d="M274.63,817.69 L251.49,825.95 L226.28,833.88"/>
<path d="M226.45,833.68 C227.81,833.89 231.67,834.45 234.64,834.93 C237.61,835.41 240.59,835.98 244.28,836.57 C247.98,837.16 253.12,837.21 256.82,838.50 C260.51,839.78 263.89,842.03 266.46,844.28 C269.03,846.53 271.04,849.59 272.25,852.00 C273.45,854.41 273.66,856.93 273.69,858.75 C273.72,860.56 272.65,862.20 272.44,862.89"/>
<ellipse cx="256.05" cy="853.25" rx="14.94" ry="9.64" transform="rotate(35 256.05 853.25)"/>
<path d="M248.62,844.09 C248.74,845.12 248.41,847.98 249.30,850.26 C250.18,852.54 252.03,855.81 253.93,857.78 C255.82,859.76 258.75,861.29 260.67,862.12 C262.60,862.96 264.34,863.36 265.50,862.80 C266.65,862.23 267.26,859.42 267.62,858.75"/>
<ellipse cx="259.23" cy="851.23" rx="8.48" ry="5.30" transform="rotate(50 259.23 851.23)"/>
</g>

<!-- 50_screws.svgfrag -->
<g class="p" transform="translate(315,480) scale(0.123967)">
<path class="l" d="M60,445 L225,360"/>
<ellipse class="w" cx="482" cy="208" rx="160" ry="92" transform="rotate(61 482 208)"/>
<path class="w" d="M187,292 L408,166 L470,316 L263,428 Z"/>
<ellipse class="w" cx="225" cy="360" rx="78" ry="45" transform="rotate(61 225 360)"/>
<path d="M224.2,271.8 A78,40 61 0 1 299.8,408.2"/>
<path d="M253.9,255.3 A78,40 61 0 1 329.5,391.7"/>
<path d="M283.5,238.8 A78,40 61 0 1 359.1,375.2"/>
<path d="M313.2,222.3 A78,40 61 0 1 388.8,358.7"/>
<path d="M342.9,205.8 A78,40 61 0 1 418.5,342.2"/>
<path d="M372.5,189.3 A78,40 61 0 1 448.1,325.7"/>
<path d="M402.2,172.8 A78,40 61 0 1 477.8,309.2"/>
<path class="l" d="M170,388 L225,360"/>
</g>
<g class="p" transform="translate(85,610) scale(0.123967)">
<path class="l" d="M490,225 L726,95"/>
<path class="w" d="M222,292 L402,187 C450,180 500,250 480,325 L300,430 Z"/>
<path d="M251.2,275.0 A80,40 61 0 1 328.8,415.0"/>
<path d="M280.2,258.4 A80,40 61 0 1 357.8,398.4"/>
<path d="M309.2,241.8 A80,40 61 0 1 386.8,381.8"/>
<path d="M338.2,225.2 A80,40 61 0 1 415.8,365.2"/>
<path d="M367.2,208.6 A80,40 61 0 1 444.8,348.6"/>
<path d="M396.2,192.0 A80,40 61 0 1 473.8,332.0"/>
<ellipse class="w" cx="185" cy="405" rx="165" ry="98" transform="rotate(61 185 405)"/>
<path d="M165,362 L195,378 L215,420 L205,455 L172,440 L148,395 Z" stroke-width="0.7"/>
<path d="M228,296 A150,70 61 0 1 300,430"/>
</g>
<g class="p" transform="translate(65,770) scale(0.192837)">
<path class="w" d="M75,345 L505,95 C535,95 560,135 548,170 L125,420 Z"/>
<ellipse class="w" cx="97" cy="382" rx="46" ry="29" transform="rotate(61 97 382)"/>
<path d="M83,343 A46,29 61 0 1 127,418"/>
</g>
<g class="p" transform="translate(125,865) scale(0.165289)">
<path class="w" d="M200,215 L440,85 C470,75 500,115 488,152 L235,290 Z"/>
<path d="M210.1,207.6 A37,18 61 0 1 245.9,272.4"/>
<path d="M232.8,194.9 A37,18 61 0 1 268.6,259.7"/>
<path d="M255.5,182.2 A37,18 61 0 1 291.3,247.0"/>
<path d="M278.2,169.5 A37,18 61 0 1 314.0,234.3"/>
<path d="M300.9,156.8 A37,18 61 0 1 336.7,221.6"/>
<path d="M323.6,144.1 A37,18 61 0 1 359.4,208.9"/>
<path d="M346.3,131.4 A37,18 61 0 1 382.1,196.2"/>
<path d="M369.0,118.7 A37,18 61 0 1 404.8,183.5"/>
<path d="M391.7,106.0 A37,18 61 0 1 427.5,170.8"/>
<path d="M414.4,93.3 A37,18 61 0 1 450.2,158.1"/>
<path d="M437.1,80.6 A37,18 61 0 1 472.9,145.4"/>
<path class="w" d="M86,248 L140,218 A72,45 61 0 1 212,340 L158,372 Z"/>
<path d="M150,215 A72,45 61 0 1 205,345" stroke-width="0.5"/>
<ellipse class="w" cx="120" cy="310" rx="72" ry="45" transform="rotate(61 120 310)"/>
<ellipse cx="122" cy="311" rx="62" ry="38" transform="rotate(61 122 311)" stroke-width="0.5"/>
<path d="M100,285 L125,278 L148,305 L140,338 L115,345 L95,318 Z" stroke-width="0.7"/>
<path d="M125,278 L122,312 L95,318 M122,312 L140,338" stroke-width="0.5"/>
</g>

<!-- 60_cyl.svgfrag -->
<g class="p" transform="translate(0,0) scale(1.000000)">
<path class="l" d="M577.02,724.71 L600.17,711.49"/>
<path class="l" d="M236.61,669.92 L476.00,806.00"/>
<path class="l" d="M309.34,754.88 L394.79,802.31 L416.28,790.74 L438.60,803.64 L432.48,807.27"/>
<path class="l" d="M406.36,821.65 L400.58,824.63 L450.99,853.55 L462.56,846.94"/>
<path class="l" d="M410.50,820.50 L420.41,814.71"/>
<path class="l" d="M245.70,787.93 L335.67,839.26"/>
<path class="l" d="M332.78,841.57 L305.40,856.03 L327.00,868.18"/>
<path class="l" d="M356.89,849.28 L407.02,878.21 L357.85,907.13 L423.42,944.74 L444.08,933.75"/>
<path class="l" d="M336.64,862.40 L348.21,855.65"/>
<path class="l" d="M449.59,930.44 L460.61,924.93"/>
<path class="l" d="M409.92,830.00 L440.00,848.32"/>
<path class="l" d="M592.37,813.09 L622.67,830.30 L616.47,833.75"/>
<path class="l" d="M578.60,855.10 L610.28,837.88"/>
<path class="l" d="M483.75,953.58 L476.03,970.11"/>
<path d="M483.06,799.77 C479.32,808.14 466.55,835.38 460.61,850.00 C454.66,864.62 449.95,879.02 447.38,887.47 C444.81,895.91 445.18,895.91 445.18,900.69 C445.18,905.46 445.91,911.16 447.38,916.12 C448.85,921.07 451.24,926.58 453.99,930.44 C456.75,934.30 460.79,937.24 463.91,939.26 C467.03,941.28 470.16,941.28 472.73,942.56 C475.30,943.85 477.13,945.32 479.34,946.97 C481.54,948.62 483.38,951.38 485.95,952.48 C488.52,953.58 491.83,953.95 494.77,953.58 C497.70,953.21 501.38,952.30 503.58,950.28 C505.79,948.26 507.25,942.93 507.99,941.46"/>
<path d="M533.00,845.00 L507.99,941.46"/>
<path d="M591.00,821.00 L560.00,907.30"/>
<path d="M560.00,907.30 C559.60,908.40 558.90,911.52 557.58,913.91 C556.25,916.30 554.82,919.79 552.07,921.63 C549.31,923.46 543.99,924.01 541.05,924.93 C538.11,925.85 537.37,925.11 534.44,927.13 C531.50,929.16 527.82,934.66 523.42,937.05 C519.01,939.44 510.56,940.73 507.99,941.46"/>
<ellipse cx="459.06" cy="924.93" rx="9.26" ry="6.39" transform="rotate(70 459.06 924.93)"/>
<ellipse class="w" cx="528.00" cy="801.20" rx="47.09" ry="34.56" transform="rotate(21 528.00 801.20)"/>
<path d="M491.12,787.23 C491.26,789.62 489.92,796.78 492.01,801.56 C494.10,806.33 499.02,812.00 503.65,815.88 C508.28,819.76 514.54,822.75 519.77,824.83 C524.99,826.92 532.45,827.82 534.99,828.42"/>
<path d="M491.12,787.23 C494.40,789.32 504.84,794.99 510.81,799.77 C516.78,804.54 522.90,811.11 526.93,815.88 C530.96,820.66 533.64,826.33 534.99,828.42"/>
<path d="M552.36,773.26 C554.15,774.34 560.03,776.79 563.10,779.71 C566.17,782.64 569.22,787.17 570.80,790.81 C572.38,794.45 572.89,798.57 572.59,801.56 C572.29,804.54 569.61,807.53 569.01,808.72"/>
<path d="M553.79,780.07 C555.28,781.86 560.35,786.10 562.74,790.81 C565.13,795.53 567.22,805.44 568.11,808.36"/>
<ellipse cx="531.94" cy="791.71" rx="22.38" ry="16.47" transform="rotate(21 531.94 791.71)"/>
<ellipse cx="533.20" cy="792.07" rx="16.65" ry="11.46" transform="rotate(21 533.20 792.07)"/>
<path class="w" d="M513.50,832.89 C514.54,833.64 518.27,835.13 519.77,837.37 C521.26,839.61 520.96,843.79 522.45,846.32 C523.94,848.86 526.33,851.69 528.72,852.59 C531.11,853.48 534.69,852.89 536.78,851.69 C538.87,850.50 540.45,847.58 541.25,845.43 C542.06,843.28 541.55,839.91 541.61,838.80"/>
<ellipse class="w" cx="531.40" cy="844.53" rx="8.60" ry="6.27" transform="rotate(10 531.40 844.53)"/>
<ellipse cx="531.94" cy="845.43" rx="6.27" ry="4.12" transform="rotate(10 531.94 845.43)"/>
<path d="M526.03,844.17 C526.48,844.83 527.23,847.40 528.72,848.11 C530.21,848.83 533.94,848.41 534.99,848.47"/>
<path class="w" d="M572.59,808.72 C573.04,810.21 573.63,815.43 575.28,817.67 C576.92,819.91 580.05,821.70 582.44,822.15 C584.83,822.60 587.96,821.55 589.60,820.36 C591.24,819.16 592.29,816.63 592.29,814.99 C592.29,813.34 591.24,811.70 589.60,810.51 C587.96,809.32 583.63,808.27 582.44,807.82"/>
<ellipse class="w" cx="582.44" cy="814.99" rx="8.60" ry="6.27" transform="rotate(10 582.44 814.99)"/>
<ellipse cx="582.98" cy="815.88" rx="6.27" ry="4.12" transform="rotate(10 582.98 815.88)"/>
<path d="M577.07,814.63 C577.51,815.28 578.26,817.85 579.75,818.57 C581.24,819.28 584.97,818.87 586.02,818.93"/>
<path class="w" d="M539.83,737.93 L518.87,785.44 518.87,785.44 C519.17,786.78 518.72,791.26 520.66,793.50 C522.60,795.74 527.08,798.27 530.51,798.87 C533.94,799.47 538.57,798.57 541.25,797.08 C543.94,795.59 545.73,791.11 546.63,789.92 L558.84,752.81 Z"/>
<path d="M523.35,766.64 L528.72,768.61" stroke-width="0.5"/>
<path class="w" d="M546.12,724.21 L562.98,715.12 562.98,715.12 C564.90,716.17 572.01,718.43 574.55,721.40 C577.08,724.38 577.63,729.61 578.18,732.98 C578.73,736.34 577.91,740.14 577.85,741.57 L561.32,751.82 Z"/>
<ellipse class="w" cx="552.73" cy="737.93" rx="16.20" ry="10.25" transform="rotate(61 552.73 737.93)"/>
<ellipse cx="553.72" cy="738.76" rx="10.58" ry="6.61" transform="rotate(61 553.72 738.76)"/>
<path class="l" d="M676.20,744.50 L665.40,770.90 L620.80,729.60 L586.00,814.00"/>
<path class="l" d="M626.60,778.30 L615.50,801.50 L565.30,756.30 L535.90,839.20"/>
<path class="w" d="M602.31,699.59 L615.04,692.98 615.04,692.98 C616.28,693.58 620.83,694.63 622.48,696.61 C624.13,698.60 624.68,702.81 624.96,704.88 C625.23,706.94 624.27,708.32 624.13,709.01 L610.58,716.94 Z"/>
<ellipse class="w" cx="606.12" cy="708.18" rx="9.92" ry="6.28" transform="rotate(61 606.12 708.18)"/>
<ellipse cx="606.12" cy="708.18" rx="6.61" ry="4.13" transform="rotate(61 606.12 708.18)"/>
<ellipse cx="606.45" cy="708.35" rx="4.63" ry="2.64" transform="rotate(61 606.45 708.35)" stroke-width="0.5"/>
<ellipse cx="437.02" cy="937.49" rx="18.73" ry="11.46" transform="rotate(70 437.02 937.49)"/>
<ellipse cx="437.02" cy="937.49" rx="9.26" ry="5.51" transform="rotate(70 437.02 937.49)"/>
<ellipse class="w" cx="474.49" cy="984.44" rx="6.17" ry="3.75" transform="rotate(15 474.49 984.44)"/>
<ellipse class="w" cx="474.49" cy="981.79" rx="6.17" ry="3.75" transform="rotate(15 474.49 981.79)"/>
<ellipse class="w" cx="474.49" cy="979.15" rx="6.17" ry="3.75" transform="rotate(15 474.49 979.15)"/>
<ellipse class="w" cx="474.49" cy="976.50" rx="6.17" ry="3.75" transform="rotate(15 474.49 976.50)"/>
<ellipse class="w" cx="476.03" cy="973.42" rx="6.17" ry="3.75" transform="rotate(15 476.03 973.42)"/>
<ellipse cx="606.14" cy="840.22" rx="19.97" ry="11.02" transform="rotate(60 606.14 840.22)"/>
<ellipse cx="606.14" cy="840.22" rx="9.37" ry="5.51" transform="rotate(60 606.14 840.22)"/>
<path class="w" d="M632.69,766.50 L629.96,765.33 L625.10,776.74 A1.49,0.89 23 0 0 627.83,777.91 Z"/>
<path class="w" d="M641.67,761.88 L627.07,755.66 L624.22,762.35 A7.93,4.76 23 0 0 638.82,768.57 Z"/>
<ellipse class="w" cx="634.37" cy="758.77" rx="7.93" ry="4.46" transform="rotate(23 634.37 758.77)"/>
<path d="M630.56,761.79 L627.72,768.48"/>
<path d="M636.17,763.85 L633.31,770.53"/>
<path class="w" d="M645.07,748.42 L634.43,743.88 L629.24,756.05 A5.79,3.47 23 0 0 639.89,760.58 Z"/>
<path d="M633.00,745.97 A6.28,3.77 23 0 0 644.56,750.89"/>
<path d="M632.22,747.79 A6.28,3.77 23 0 0 643.78,752.72"/>
<path class="w" d="M652.86,736.46 L637.65,729.98 L632.15,742.91 A8.26,4.96 23 0 0 647.35,749.39 Z"/>
<path d="M635.84,734.24 A8.26,4.96 23 0 0 651.05,740.72"/>
<path d="M634.67,736.98 A8.26,4.96 23 0 0 649.88,743.46"/>
<path d="M633.51,739.72 A8.26,4.96 23 0 0 648.71,746.20"/>
<ellipse class="w" cx="645.26" cy="733.22" rx="8.26" ry="4.96" transform="rotate(23 645.26 733.22)"/>
<ellipse cx="645.59" cy="733.06" rx="3.31" ry="2.15" transform="rotate(23 645.59 733.06)"/>
<path class="w" d="M682.61,730.63 L679.87,729.47 L675.01,740.87 A1.49,0.89 23 0 0 677.75,742.04 Z"/>
<path class="w" d="M691.59,726.01 L676.99,719.79 L674.14,726.48 A7.93,4.76 23 0 0 688.74,732.70 Z"/>
<ellipse class="w" cx="684.29" cy="722.90" rx="7.93" ry="4.46" transform="rotate(23 684.29 722.90)"/>
<path d="M680.48,725.92 L677.64,732.61"/>
<path d="M686.08,727.98 L683.22,734.66"/>
<path class="w" d="M694.99,712.55 L684.34,708.01 L679.16,720.18 A5.79,3.47 23 0 0 689.80,724.71 Z"/>
<path d="M682.92,710.10 A6.28,3.77 23 0 0 694.47,715.02"/>
<path d="M682.14,711.92 A6.28,3.77 23 0 0 693.70,716.85"/>
<path class="w" d="M702.78,700.60 L687.57,694.12 L682.06,707.04 A8.26,4.96 23 0 0 697.27,713.52 Z"/>
<path d="M685.76,698.37 A8.26,4.96 23 0 0 700.96,704.85"/>
<path d="M684.59,701.11 A8.26,4.96 23 0 0 699.80,707.59"/>
<path d="M683.42,703.85 A8.26,4.96 23 0 0 698.63,710.33"/>
<ellipse class="w" cx="695.17" cy="697.36" rx="8.26" ry="4.96" transform="rotate(23 695.17 697.36)"/>
<ellipse cx="695.50" cy="697.19" rx="3.31" ry="2.15" transform="rotate(23 695.50 697.19)"/>
<g transform="translate(0.00,0.00)">
<ellipse class="w" cx="420.91" cy="813.88" rx="20.17" ry="12.23" transform="rotate(61 420.91 813.88)"/>
<ellipse class="w" cx="415.95" cy="816.69" rx="20.17" ry="12.23" transform="rotate(61 415.95 816.69)"/>
<ellipse cx="414.96" cy="817.19" rx="11.07" ry="6.61" transform="rotate(61 414.96 817.19)"/>
<ellipse cx="415.29" cy="817.36" rx="9.09" ry="5.12" transform="rotate(61 415.29 817.36)"/>
<ellipse cx="415.62" cy="817.52" rx="7.44" ry="3.97" transform="rotate(61 415.62 817.52)"/>
</g>
<g transform="translate(-73.00,43.60)">
<ellipse class="w" cx="420.91" cy="813.88" rx="20.17" ry="12.23" transform="rotate(61 420.91 813.88)"/>
<ellipse class="w" cx="415.95" cy="816.69" rx="20.17" ry="12.23" transform="rotate(61 415.95 816.69)"/>
<ellipse cx="414.96" cy="817.19" rx="11.07" ry="6.61" transform="rotate(61 414.96 817.19)"/>
<ellipse cx="415.29" cy="817.36" rx="9.09" ry="5.12" transform="rotate(61 415.29 817.36)"/>
<ellipse cx="415.62" cy="817.52" rx="7.44" ry="3.97" transform="rotate(61 415.62 817.52)"/>
</g>
</g>

<!-- 90_labels.svgfrag -->
<g class="lb"><circle cx="113" cy="51.5" r="10.45"/><text x="113" y="56.35">30</text></g>
<g class="lb"><circle cx="142.7" cy="94.7" r="10.45"/><text x="142.7" y="99.55">29</text></g>
<g class="lb"><circle cx="278.5" cy="51" r="10.5"/><text class="f" x="278.5" y="49.8">28</text><line x1="269.3" y1="52.1" x2="287.7" y2="52.1"/><text class="f" x="278.5" y="59.1">2</text></g>
<g class="lb"><circle cx="164" cy="134.4" r="10.5"/><text class="f" x="164" y="133.2">28</text><line x1="154.8" y1="135.5" x2="173.2" y2="135.5"/><text class="f" x="164" y="142.5">1</text></g>
<g class="lb"><circle cx="343.7" cy="94.2" r="10.45"/><text x="343.7" y="99.05">27</text></g>
<g class="lb"><circle cx="288.5" cy="179.7" r="10.45"/><text x="288.5" y="184.55">25</text></g>
<g class="lb"><circle cx="114" cy="187.1" r="10.45"/><text x="114" y="191.95">27</text></g>
<g class="lb"><circle cx="43.9" cy="234.7" r="10.45"/><text x="43.9" y="239.55">26</text></g>
<g class="lb"><circle cx="390.5" cy="194.3" r="10.45"/><text x="390.5" y="199.15">24</text></g>
<g class="lb"><circle cx="175.7" cy="235.7" r="10.45"/><text x="175.7" y="240.55">23</text></g>
<g class="lb"><circle cx="131.2" cy="269" r="10.45"/><text x="131.2" y="273.85">22</text></g>
<g class="lb"><circle cx="199.2" cy="287.2" r="10.45"/><text x="199.2" y="292.05">21</text></g>
<g class="lb"><circle cx="252.7" cy="299.6" r="10.45"/><text x="252.7" y="304.45">21</text></g>
<g class="lb"><circle cx="151.4" cy="311.6" r="10.45"/><text x="151.4" y="316.45">20</text></g>
<g class="lb"><circle cx="135.6" cy="337.4" r="10.45"/><text x="135.6" y="342.25">18</text></g>
<g class="lb"><circle cx="117.4" cy="371.9" r="10.45"/><text x="117.4" y="376.75">17</text></g>
<g class="lb"><circle cx="301.7" cy="432" r="10.45"/><text x="301.7" y="436.85">15</text></g>
<g class="lb"><circle cx="401.1" cy="360.9" r="10.45"/><text x="401.1" y="365.75">16</text></g>
<g class="lb"><circle cx="471.1" cy="266.2" r="10.45"/><text x="471.1" y="271.05">19</text></g>
<g class="lb"><circle cx="90.2" cy="458.2" r="10.45"/><text x="90.2" y="463.05">19</text></g>
<g class="lb"><circle cx="229.2" cy="459" r="10.45"/><text x="229.2" y="463.85">14</text></g>
<g class="lb"><circle cx="170.3" cy="488.3" r="10.45"/><text x="170.3" y="493.15">13</text></g>
<g class="lb"><circle cx="191.9" cy="523.8" r="10.45"/><text x="191.9" y="528.65">12</text></g>
<g class="lb"><circle cx="184" cy="837.8" r="10.45"/><text x="184" y="842.65">9</text></g>
<g class="lb"><circle cx="340.8" cy="498.6" r="10.45"/><text x="340.8" y="503.45">11</text></g>
<g class="lb"><circle cx="115.1" cy="628.8" r="10.45"/><text x="115.1" y="633.65">11</text></g>
<g class="lb"><circle cx="117.1" cy="798.3" r="10.45"/><text x="117.1" y="803.15">10</text></g>
<g class="lb"><circle cx="170" cy="932.8" r="10.45"/><text x="170" y="937.65">7</text></g>
<g class="lb"><circle cx="448.8" cy="822.6" r="10.45"/><text x="448.8" y="827.45">8</text></g>
<g class="lb"><circle cx="356.3" cy="886.9" r="10.45"/><text x="356.3" y="891.75">8</text></g>
<g class="lb"><circle cx="435.9" cy="880.4" r="10.45"/><text x="435.9" y="885.25">3</text></g>
<g class="lb"><circle cx="413.8" cy="917.5" r="10.45"/><text x="413.8" y="922.35">2</text></g>
<g class="lb"><circle cx="493.7" cy="981.1" r="10.45"/><text x="493.7" y="985.95">1</text></g>
<g class="lb"><circle cx="645.1" cy="781.7" r="10.45"/><text x="645.1" y="786.55">4</text></g>
<g class="lb"><circle cx="671.7" cy="700.2" r="10.45"/><text x="671.7" y="705.05">5</text></g>
<g class="lb"><circle cx="605.6" cy="684.1" r="10.45"/><text x="605.6" y="688.95">6</text></g>
<g class="lb"><circle cx="631.9" cy="840.6" r="10.45"/><text x="631.9" y="845.45">2</text></g>

</svg>
</body></html>
